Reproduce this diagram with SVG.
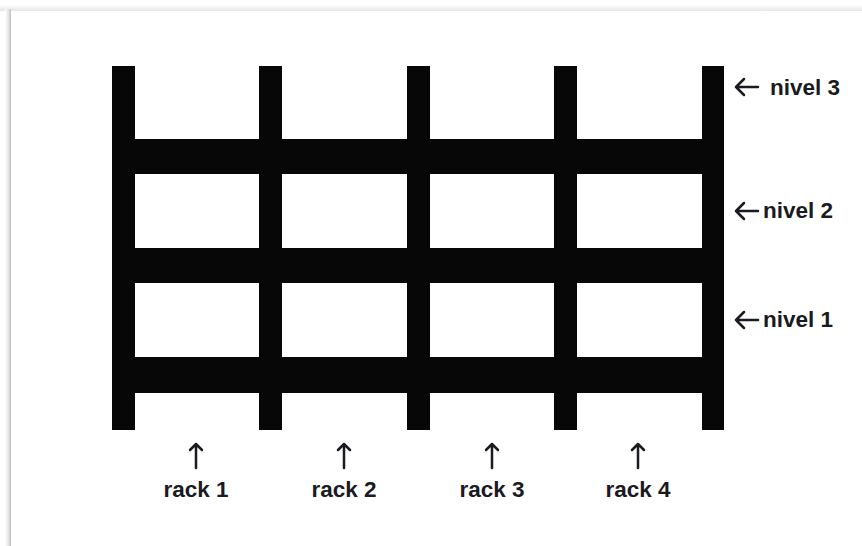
<svg xmlns="http://www.w3.org/2000/svg" width="862" height="546" viewBox="0 0 862 546">
  <defs>
    <linearGradient id="shL" x1="0" y1="0" x2="1" y2="0">
      <stop offset="0" stop-color="#ffffff"/>
      <stop offset="0.6" stop-color="#e4e4e4"/>
      <stop offset="1" stop-color="#bdbdbd"/>
    </linearGradient>
    <linearGradient id="shT" x1="0" y1="0" x2="0" y2="1">
      <stop offset="0" stop-color="#ffffff"/>
      <stop offset="1" stop-color="#e6e6e6"/>
    </linearGradient>
  </defs>
  <style>
    .bar { fill: #070707; }
    .lbl { font-family: "Liberation Sans", Arial, sans-serif; font-weight: bold; font-size: 22.5px; fill: #1a1a22; }
    .arr { fill: none; stroke: #1a1a22; stroke-width: 2.5; stroke-linecap: round; stroke-linejoin: round; }
  </style>
  <rect x="0" y="0" width="862" height="546" fill="#ffffff"/>
  <rect x="0" y="5" width="862" height="6" fill="url(#shT)"/>
  <rect x="5" y="9" width="6" height="537" fill="url(#shL)"/>
  <rect x="11" y="11" width="851" height="535" fill="#ffffff"/>

  <g id="rack-frame">
    <g id="posts">
      <rect class="bar" x="112" y="66" width="23" height="364"/>
      <rect class="bar" x="259" y="66" width="23" height="364"/>
      <rect class="bar" x="407" y="66" width="23" height="364"/>
      <rect class="bar" x="554" y="66" width="23" height="364"/>
      <rect class="bar" x="702" y="66" width="22" height="364"/>
    </g>
    <g id="beams">
      <rect class="bar" x="112" y="139" width="612" height="35"/>
      <rect class="bar" x="112" y="248" width="612" height="35"/>
      <rect class="bar" x="112" y="357" width="612" height="36"/>
    </g>
  </g>

  <g id="connectors">
    <path class="arr" d="M758 87 H736 M744 79 L736 87 L744 95"/>
    <path class="arr" d="M758 211 H736 M744 203 L736 211 L744 219"/>
    <path class="arr" d="M758 320 H736 M744 312 L736 320 L744 328"/>
    <path class="arr" stroke-width="1.5" d="M196 468 V444 M190 450 L196 444 L202 450"/>
    <path class="arr" stroke-width="1.5" d="M344 468 V444 M338 450 L344 444 L350 450"/>
    <path class="arr" stroke-width="1.5" d="M492 468 V444 M486 450 L492 444 L498 450"/>
    <path class="arr" stroke-width="1.5" d="M638 468 V444 M632 450 L638 444 L644 450"/>
  </g>

  <g id="nivel-3"><text class="lbl" x="770" y="95">nivel 3</text></g>
  <g id="nivel-2"><text class="lbl" x="763" y="218">nivel 2</text></g>
  <g id="nivel-1"><text class="lbl" x="763" y="327">nivel 1</text></g>

  <g id="rack-1"><text class="lbl" x="196" y="497" text-anchor="middle">rack 1</text></g>
  <g id="rack-2"><text class="lbl" x="344" y="497" text-anchor="middle">rack 2</text></g>
  <g id="rack-3"><text class="lbl" x="492" y="497" text-anchor="middle">rack 3</text></g>
  <g id="rack-4"><text class="lbl" x="638" y="497" text-anchor="middle">rack 4</text></g>
</svg>
